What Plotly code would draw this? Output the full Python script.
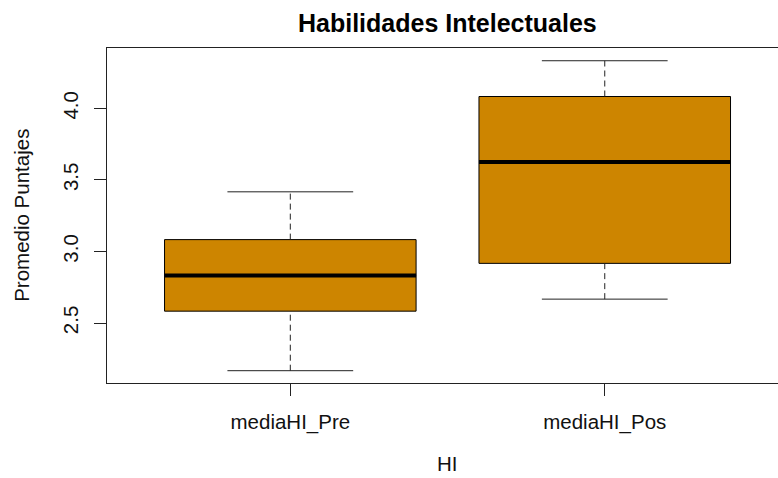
import plotly.graph_objects as go

# boxplot stats (R base boxplot)
grupos = ["mediaHI_Pre", "mediaHI_Pos"]
posiciones = [1, 2]
minimo = [2.167, 2.667]
q1 = [2.583, 2.917]
mediana = [2.833, 3.625]
q3 = [3.083, 4.083]
maximo = [3.417, 4.333]

relleno = "#CD8500"
fuente = "Liberation Sans, Arial, sans-serif"
ancho_caja = 0.8
ancho_tope = 0.4

fig = go.Figure()

# dashed whiskers (drawn first so the box covers their ends)
wx, wy = [], []
for x, lo, a, b, hi in zip(posiciones, minimo, q1, q3, maximo):
    wx += [x, x, None, x, x, None]
    wy += [lo, a, None, b, hi, None]
fig.add_trace(go.Scatter(x=wx, y=wy, mode="lines", hoverinfo="skip",
                         line=dict(color="#222222", width=1, dash="6px,4px")))

# whisker caps
cx, cy = [], []
for x, lo, hi in zip(posiciones, minimo, maximo):
    cx += [x - ancho_tope / 2, x + ancho_tope / 2, None, x - ancho_tope / 2, x + ancho_tope / 2, None]
    cy += [lo, lo, None, hi, hi, None]
fig.add_trace(go.Scatter(x=cx, y=cy, mode="lines", hoverinfo="skip",
                         line=dict(color="#222222", width=1)))

fig.add_trace(go.Box(
    x=posiciones, q1=q1, median=mediana, q3=q3,
    lowerfence=q1, upperfence=q3,
    width=ancho_caja, whiskerwidth=0,
    fillcolor=relleno, line=dict(color="black", width=1),
    boxpoints=False,
))

# thick median line
mx, my = [], []
for x, m in zip(posiciones, mediana):
    mx += [x - ancho_caja / 2, x + ancho_caja / 2, None]
    my += [m, m, None]
fig.add_trace(go.Scatter(x=mx, y=my, mode="lines", hoverinfo="skip",
                         line=dict(color="black", width=4)))

fig.update_layout(
    width=778, height=478,
    margin=dict(l=107, r=0, t=48, b=95),
    plot_bgcolor="white", paper_bgcolor="white",
    showlegend=False,
    font=dict(family=fuente, color="#111111", size=20.5),
    xaxis=dict(
        range=[0.417, 2.551], automargin=False,
        tickvals=posiciones, ticktext=grupos,
        showline=True, mirror=True, linecolor="#222222", linewidth=1,
        ticks="outside", ticklen=12, tickcolor="#222222",
        showgrid=False, zeroline=False,
        ticklabelstandoff=8,
        tickfont=dict(size=20.5),
    ),
    yaxis=dict(
        range=[2.081, 4.422], automargin=False,
        tickvals=[2.5, 3.0, 3.5, 4.0], ticktext=["2.5", "3.0", "3.5", "4.0"],
        tickangle=-90,
        showline=True, linecolor="#222222", linewidth=1,
        ticks="outside", ticklen=12, tickcolor="#222222",
        showgrid=False, zeroline=False,
        ticklabelstandoff=8,
        tickfont=dict(size=20.5),
    ),
    annotations=[
        dict(text="<b>Habilidades Intelectuales</b>", xref="paper", yref="paper",
             x=0.507, y=1.074, xanchor="center", yanchor="middle",
             showarrow=False, font=dict(size=25, color="black")),
        dict(text="HI", xref="paper", yref="paper",
             x=0.507, y=-0.2815, xanchor="center", yanchor="bottom",
             showarrow=False, font=dict(size=20.5)),
        dict(text="Promedio Puntajes", xref="paper", yref="paper",
             x=-0.1277, y=0.5, xanchor="center", yanchor="middle",
             textangle=-90, showarrow=False, font=dict(size=20.5)),
    ],
)

# drop the default page margin so the 778x478 figure fills the window
fig.write_html("out.html", config={"displayModeBar": False},
               post_script="document.body.style.margin='0';document.body.style.overflow='hidden';")
